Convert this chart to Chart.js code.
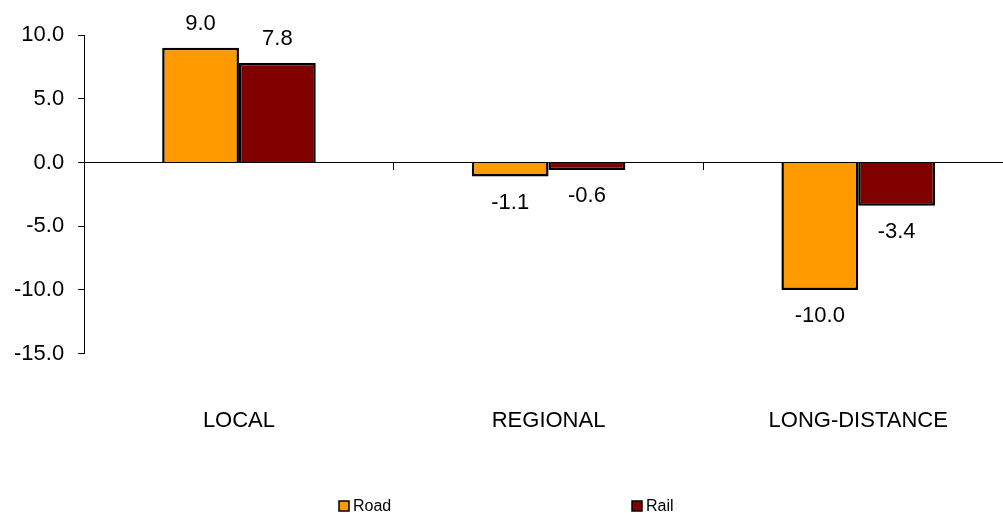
<!DOCTYPE html>
<html lang="en">
  <head>
    <meta charset="UTF-8" />
    <title>Road and Rail</title>
    <script src="https://cdn.jsdelivr.net/npm/chart.js"></script>
    <style>
      html, body { margin: 0; padding: 0; background: #fff; overflow: hidden; }
      #wrap { position: absolute; left: 0; top: 0; width: 1013px; height: 513px; }
    </style>
  </head>
  <body>
    <div id="wrap"><canvas id="chartCanvas"></canvas></div>

    <script>
      let categories = ["LOCAL", "REGIONAL", "LONG-DISTANCE"];
      let roadValues = [9.0, -1.1, -10.0];
      let railValues = [7.8, -0.6, -3.4];
      let yTicks = [-15, -10, -5, 0, 5, 10];

      let fontFamily = "'Liberation Sans', Arial, Helvetica, sans-serif";
      Chart.defaults.font.family = fontFamily;
      Chart.defaults.color = "#000";

      // value labels above / below each bar
      let valueLabels = {
        id: "valueLabels",
        afterDatasetsDraw(chart) {
          let ctx = chart.ctx;
          ctx.save();
          ctx.font = "22px " + fontFamily;
          ctx.fillStyle = "#000";
          ctx.textAlign = "center";
          ctx.textBaseline = "middle";
          chart.data.datasets.forEach((ds, i) => {
            chart.getDatasetMeta(i).data.forEach((bar, j) => {
              let v = ds.data[j];
              let y = v >= 0 ? bar.y - 24 : bar.y + 26;
              ctx.fillText(v.toFixed(1), bar.x, y);
            });
          });
          ctx.restore();
        },
      };

      // legend spread out along the bottom like the original
      let spreadLegend = {
        id: "spreadLegend",
        afterDraw(chart) {
          let ctx = chart.ctx;
          let xs = [339, 632];
          let y = 506;
          ctx.save();
          ctx.font = "16px " + fontFamily;
          ctx.textBaseline = "middle";
          ctx.textAlign = "left";
          chart.data.datasets.forEach((ds, i) => {
            ctx.fillStyle = ds.backgroundColor;
            ctx.fillRect(xs[i], y - 5, 10, 10);
            ctx.strokeStyle = "#000";
            ctx.lineWidth = 1.5;
            ctx.strokeRect(xs[i], y - 5, 10, 10);
            ctx.fillStyle = "#000";
            ctx.fillText(ds.label, xs[i] + 14, y + 1);
          });
          ctx.restore();
        },
      };

      let ctx = document.getElementById("chartCanvas").getContext("2d");
      new Chart(ctx, {
        type: "bar",
        data: {
          labels: categories,
          datasets: [
            {
              label: "Road",
              data: roadValues,
              backgroundColor: "#FF9900",
              borderColor: "#000",
              borderWidth: 2.5,
            },
            {
              label: "Rail",
              data: railValues,
              backgroundColor: "#800000",
              borderColor: "#000",
              borderWidth: 2.5,
            },
          ],
        },
        options: {
          responsive: true,
          maintainAspectRatio: false,
          animation: false,
          categoryPercentage: 0.496,
          barPercentage: 1.0,
          layout: { padding: { top: 35, left: 0, right: 0, bottom: 25 } },
          plugins: {
            legend: { display: false },
            tooltip: { enabled: false },
          },
          scales: {
            x: {
              position: { y: 0 },
              offset: true,
              grid: {
                offset: true,
                drawOnChartArea: false,
                drawTicks: true,
                tickLength: 7,
                color: "#000",
              },
              border: { color: "#000", width: 1 },
              ticks: { display: false },
            },
            x2: {
              type: "category",
              labels: categories,
              position: "bottom",
              offset: true,
              grid: { display: false, drawTicks: false },
              border: { display: false },
              ticks: { padding: 54, font: { size: 22 }, maxRotation: 0 },
            },
            y: {
              min: -15,
              max: 10,
              afterBuildTicks(scale) {
                scale.ticks = yTicks.map((v) => ({ value: v }));
              },
              grid: {
                drawOnChartArea: false,
                drawTicks: true,
                tickLength: 6,
                color: "#000",
              },
              border: { color: "#000", width: 1 },
              ticks: {
                padding: 14,
                font: { size: 22 },
                callback: (v) => v.toFixed(1),
              },
            },
          },
        },
        plugins: [valueLabels, spreadLegend],
      });
    </script>
  </body>
</html>
